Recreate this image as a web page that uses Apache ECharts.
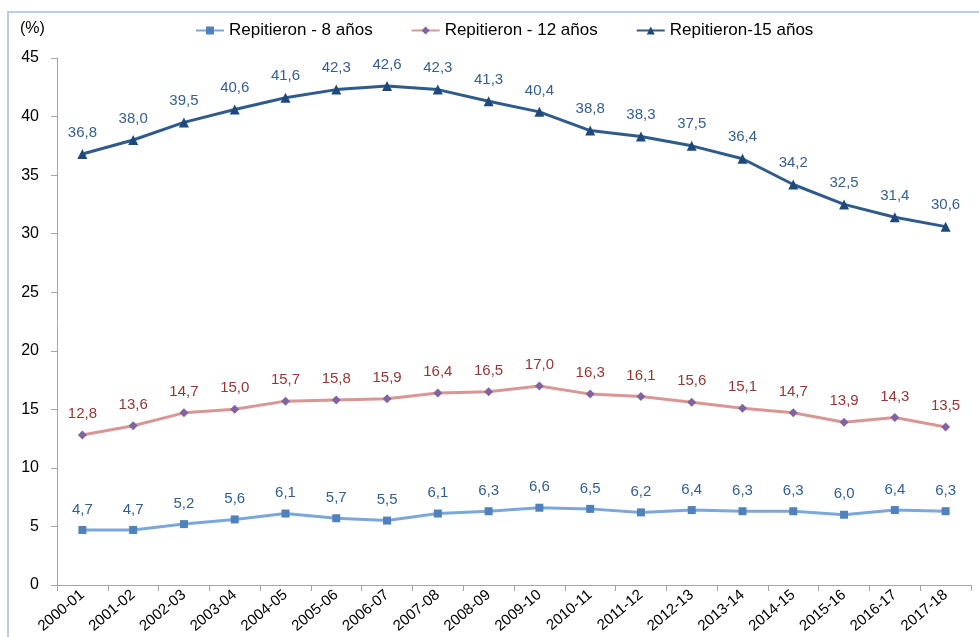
<!DOCTYPE html>
<html>
<head>
<meta charset="utf-8">
<script src="https://cdn.jsdelivr.net/npm/echarts@6/dist/echarts.min.js"></script>
<style>
html,body{margin:0;padding:0;background:#fff;}
#chart{width:979px;height:637px;}
</style>
</head>
<body>
<div id="chart"></div>
<script>
var years = ['2000-01','2001-02','2002-03','2003-04','2004-05','2005-06','2006-07','2007-08','2008-09',
    '2009-10','2010-11','2011-12','2012-13','2013-14','2014-15','2015-16','2016-17','2017-18'];
var rep8 = [4.7,4.7,5.2,5.6,6.1,5.7,5.5,6.1,6.3,6.6,6.5,6.2,6.4,6.3,6.3,6.0,6.4,6.3];
var rep12 = [12.8,13.6,14.7,15.0,15.7,15.8,15.9,16.4,16.5,17.0,16.3,16.1,15.6,15.1,14.7,13.9,14.3,13.5];
var rep15 = [36.8,38.0,39.5,40.6,41.6,42.3,42.6,42.3,41.3,40.4,38.8,38.3,37.5,36.4,34.2,32.5,31.4,30.6];

var font = 'Liberation Sans, Noto Sans, sans-serif';

function fmt(p){
    return p.value.toFixed(1).replace('.', ',');
}

function serie(name, data, lineColor, markColor, symbol, size, labelColor){
    return {
        name: name,
        type: 'line',
        data: data,
        symbol: symbol,
        symbolSize: size,
        lineStyle: {color: lineColor, width: 3},
        itemStyle: {color: markColor},
        label: {
            show: true,
            position: 'top',
            distance: 9,
            color: labelColor,
            fontSize: 15,
            fontFamily: font,
            formatter: fmt
        },
        z: 3
    };
}

var myChart = echarts.init(document.getElementById('chart'));
var option = {
    backgroundColor: '#fff',
    animation: false,
    graphic: [{
        type: 'rect',
        shape: {x: 8, y: 12, width: 1000, height: 700},
        style: {fill: 'none', stroke: '#B9CDE5', lineWidth: 2},
        silent: true
    }, {
        type: 'text',
        left: 20,
        top: 21,
        style: {text: '(%)', fontSize: 16, fontFamily: font, fill: '#000'}
    }],
    legend: {
        top: 17,
        left: 190,
        itemWidth: 28,
        itemHeight: 10,
        itemGap: 38,
        textStyle: {fontSize: 17, fontFamily: font, color: '#000'},
        data: ['Repitieron - 8 años', 'Repitieron - 12 años', 'Repitieron-15 años']
    },
    grid: {left: 57, right: 8, top: 58, bottom: 52, containLabel: false},
    xAxis: {
        type: 'category',
        data: years,
        boundaryGap: true,
        axisLine: {lineStyle: {color: '#A6A6A6', width: 1}},
        axisTick: {show: true, inside: false, length: 6, lineStyle: {color: '#A6A6A6'}},
        axisLabel: {
            interval: 0,
            rotate: 40,
            fontSize: 15,
            fontFamily: font,
            color: '#000',
            margin: 8
        }
    },
    yAxis: {
        type: 'value',
        min: 0,
        max: 45,
        interval: 5,
        splitLine: {show: false},
        axisLine: {show: true, lineStyle: {color: '#A6A6A6', width: 1}},
        axisTick: {show: true, length: 6, lineStyle: {color: '#A6A6A6'}},
        axisLabel: {fontSize: 16, fontFamily: font, color: '#000', margin: 18}
    },
    series: [
        serie('Repitieron - 8 años', rep8, '#7BA7DB', '#4F81BD', 'rect', 8, '#2F5F93'),
        serie('Repitieron - 12 años', rep12, '#D99694', '#8064A2', 'diamond', 9, '#943634'),
        serie('Repitieron-15 años', rep15, '#2F5B8C', '#1F497D', 'triangle', 10, '#366092')
    ]
};
myChart.setOption(option);
</script>
</body>
</html>
